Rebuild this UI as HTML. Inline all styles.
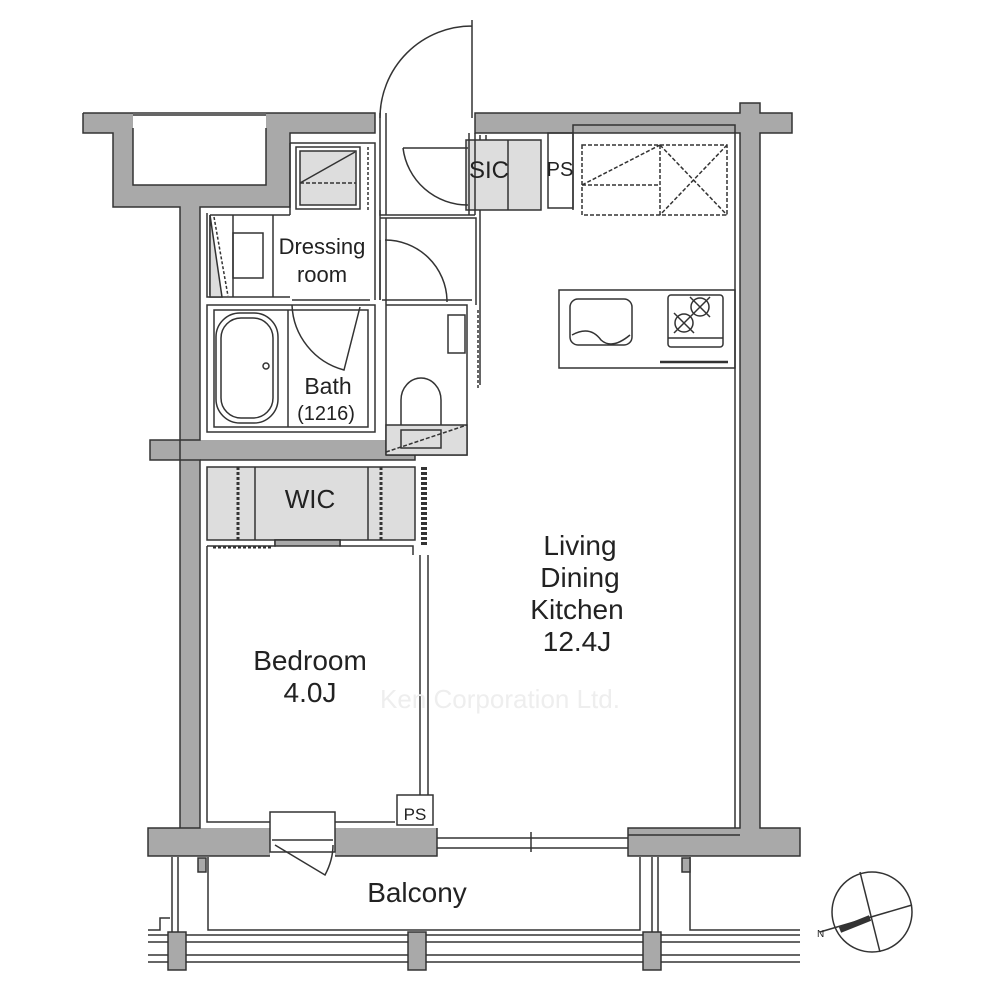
<!DOCTYPE html>
<html><head><meta charset="utf-8"><style>
html,body{margin:0;padding:0;background:#fff;width:1000px;height:1000px;overflow:hidden}
svg{display:block}
text{font-family:"Liberation Sans",sans-serif;fill:#222}
</style></head><body>
<svg width="1000" height="1000" viewBox="0 0 1000 1000" xmlns="http://www.w3.org/2000/svg">
<!-- walls fill -->
<g fill="#a9a9a9" stroke="none">
 <rect x="83" y="113" width="50" height="20"/>
 <rect x="113" y="113" width="20" height="94"/>
 <rect x="113" y="185" width="177" height="22"/>
 <rect x="266" y="113" width="24" height="94"/>
 <rect x="266" y="113" width="109" height="20"/>
 <rect x="180" y="185" width="20" height="645"/>
 <rect x="150" y="440" width="265" height="20"/>
 <rect x="475" y="113" width="317" height="20"/>
 <rect x="740" y="103" width="20" height="730"/>
 <rect x="628" y="828" width="172" height="28"/>
 <rect x="148" y="828" width="122" height="28"/>
 <rect x="335" y="828" width="102" height="28"/>
</g>
<g fill="none" stroke="#333" stroke-width="1.5">
 <path d="M83 113 H375 V133 H290 V207 H200 V440 H150 V460 H200 V828 H148 V856 H270 M335 856 H437 V828 M83 113 V133 H113 V207 H180 V828"/>
 <path d="M133 115 H266 M133 128 V185 H266 V128"/>
 <path d="M475 113 H740 V103 H760 V113 H792 V133 H760 V828 H800 V856 H628 V828 H740 V133 H475 Z"/>
 <path d="M200 460 H415 V440"/>
</g>
<g fill="none" stroke="#333" stroke-width="1.5">
 <rect x="207" y="467" width="208" height="73" fill="#ddd"/>
 <line x1="255" y1="467" x2="255" y2="540"/><line x1="368" y1="467" x2="368" y2="540"/>
 <line x1="238" y1="467" x2="238" y2="540" stroke-dasharray="3 2" stroke-width="3"/>
 <line x1="381" y1="467" x2="381" y2="540" stroke-dasharray="3 2" stroke-width="3"/>
 <path d="M207 546 H275 V540 H340 V546 H413 V555"/>
 <rect x="275" y="540" width="65" height="6" fill="#aaa"/>
 <line x1="213" y1="547" x2="272" y2="547" stroke-dasharray="3 2" stroke-width="3"/>
 <path d="M207 546 V822 H395"/>
 <path d="M420 555 V820 M428 555 V820"/>
 <rect x="397" y="795" width="36" height="30" fill="#fff"/>
 <rect x="270" y="812" width="65" height="40" fill="#fff"/>
 <line x1="272" y1="840" x2="333" y2="840"/>
 <path d="M275 845 L325 875 Q333 860 333 845"/>
 <line x1="424" y1="467" x2="424" y2="545" stroke-dasharray="3 2" stroke-width="6"/>
 <path d="M437 838 H628 M437 848 H628"/><line x1="531" y1="832" x2="531" y2="852"/>
 <path d="M628 835 H740"/>
 <path d="M573 210 V125 H735 V828"/>
 <path d="M480 135 V385 M486 135 V210"/>
 <line x1="478" y1="310" x2="478" y2="390" stroke-dasharray="3 2"/>
 <rect x="548" y="133" width="25" height="75"/>
 <rect x="466" y="140" width="75" height="70" fill="#ddd"/>
 <line x1="508" y1="140" x2="508" y2="210"/>
 <g stroke-dasharray="4 2">
  <rect x="582" y="145" width="145" height="70"/>
  <line x1="660" y1="145" x2="660" y2="215"/>
  <line x1="582" y1="185" x2="660" y2="145"/>
  <line x1="660" y1="145" x2="727" y2="215"/><line x1="727" y1="145" x2="660" y2="215"/>
  <line x1="582" y1="185" x2="660" y2="185"/>
 </g>
 <rect x="559" y="290" width="176" height="78"/>
 <rect x="570" y="299" width="62" height="46" rx="8"/>
 <path d="M572 335 Q590 325 601 340 Q612 350 630 335"/>
 <rect x="668" y="295" width="55" height="52" rx="3"/>
 <line x1="668" y1="338" x2="723" y2="338"/>
 <circle cx="700" cy="307" r="9"/><circle cx="684" cy="323" r="9"/>
 <path d="M690 297 L710 317 M710 297 L690 317 M674 313 L694 333 M694 313 L674 333"/>
 <line x1="660" y1="362" x2="728" y2="362" stroke-width="2.5"/>
 <path d="M380 113 V215 H475 M386 113 V215 M475 133 V215 M469 133 V215"/>
 <path d="M472 20 V118 M380 118 A92 92 0 0 1 472 26"/>
 <path d="M403 148 A65 65 0 0 0 468 205 M403 148 H468"/>
 <path d="M380 218 H476 V300 M386 218 V455 M380 240 V300 M476 300 V305"/>
 <path d="M385 240 A62 62 0 0 1 447 300 V302"/>
 <path d="M382 300 H472 M386 305 H467 V455 H386"/>
 <rect x="448" y="315" width="17" height="38"/>
 <path d="M401 430 V400 A20 22 0 0 1 441 400 V430"/>
 <rect x="386" y="425" width="81" height="30" fill="#ddd"/>
 <rect x="401" y="430" width="40" height="18" fill="#ddd"/>
 <line x1="386" y1="452" x2="467" y2="425" stroke-dasharray="4 2"/>
 <path d="M290 143 H375 V300 M380 210 V300 M290 143 V207 M207 213 V297 H290"/>
 <rect x="296" y="147" width="64" height="62"/>
 <rect x="300" y="151" width="56" height="54" fill="#ddd"/>
 <line x1="300" y1="183" x2="356" y2="183" stroke-dasharray="4 2"/>
 <line x1="300" y1="183" x2="355" y2="152"/>
 <line x1="368" y1="147" x2="368" y2="210" stroke-dasharray="3 2"/>
 <path d="M210 215 H290 M210 215 V295 M290 207 V215"/>
 <path d="M210 215 L222 297 L210 297 Z" fill="#ddd"/>
 <line x1="233" y1="215" x2="233" y2="297"/>
 <line x1="214" y1="217" x2="228" y2="296" stroke-dasharray="3 2"/>
 <rect x="233" y="233" width="30" height="45"/>
 <line x1="273" y1="215" x2="273" y2="297"/>
 <rect x="207" y="305" width="168" height="127"/>
 <path d="M292 300 H370"/>
 <rect x="214" y="310" width="154" height="117"/>
 <rect x="216" y="313" width="62" height="110" rx="24"/>
 <rect x="221" y="318" width="52" height="100" rx="20"/>
 <circle cx="266" cy="366" r="3"/>
 <line x1="288" y1="310" x2="288" y2="427"/>
 <path d="M292 305 A70 70 0 0 0 344 370 L360 307"/>
 <path d="M172 857 V935 M178 857 V935 M208 857 V930 H640 V857 M652 857 V935 M658 857 V935 M690 857 V930 H800"/>
 <path d="M148 935 H800 M148 942 H800 M148 955 H800 M148 962 H800"/>
 <path d="M148 930 H160 V918 H170"/>
</g>
<g fill="#a9a9a9" stroke="#333" stroke-width="1.5">
 <rect x="168" y="932" width="18" height="38"/>
 <rect x="408" y="932" width="18" height="38"/>
 <rect x="643" y="932" width="18" height="38"/>
 <rect x="198" y="858" width="8" height="14"/>
 <rect x="682" y="858" width="8" height="14"/>
</g>
<g fill="none" stroke="#333" stroke-width="1.5">
 <circle cx="872" cy="912" r="40"/>
 <line x1="820" y1="932" x2="912" y2="905"/>
 <line x1="860" y1="872" x2="880" y2="952"/>
 <line x1="840" y1="930" x2="870" y2="918" stroke-width="6"/>
</g>
<text x="817" y="937" font-size="10">N</text>
<text x="580" y="555" font-size="28" text-anchor="middle">Living</text>
<text x="580" y="587" font-size="28" text-anchor="middle">Dining</text>
<text x="577" y="619" font-size="28" text-anchor="middle">Kitchen</text>
<text x="577" y="651" font-size="28" text-anchor="middle">12.4J</text>
<text x="310" y="670" font-size="28" text-anchor="middle">Bedroom</text>
<text x="310" y="702" font-size="28" text-anchor="middle">4.0J</text>
<text x="310" y="508" font-size="26" text-anchor="middle">WIC</text>
<text x="328" y="394" font-size="23" text-anchor="middle">Bath</text>
<text x="326" y="420" font-size="20" text-anchor="middle">(1216)</text>
<text x="322" y="254" font-size="22" text-anchor="middle">Dressing</text>
<text x="322" y="282" font-size="22" text-anchor="middle">room</text>
<text x="489" y="178" font-size="24" text-anchor="middle">SIC</text>
<text x="560" y="176" font-size="20" text-anchor="middle">PS</text>
<text x="415" y="820" font-size="17" text-anchor="middle">PS</text>
<text x="417" y="902" font-size="28" text-anchor="middle">Balcony</text>
<text x="500" y="708" font-size="26" text-anchor="middle" style="fill:#eee">Ken Corporation Ltd.</text>
</svg>
</body></html>
